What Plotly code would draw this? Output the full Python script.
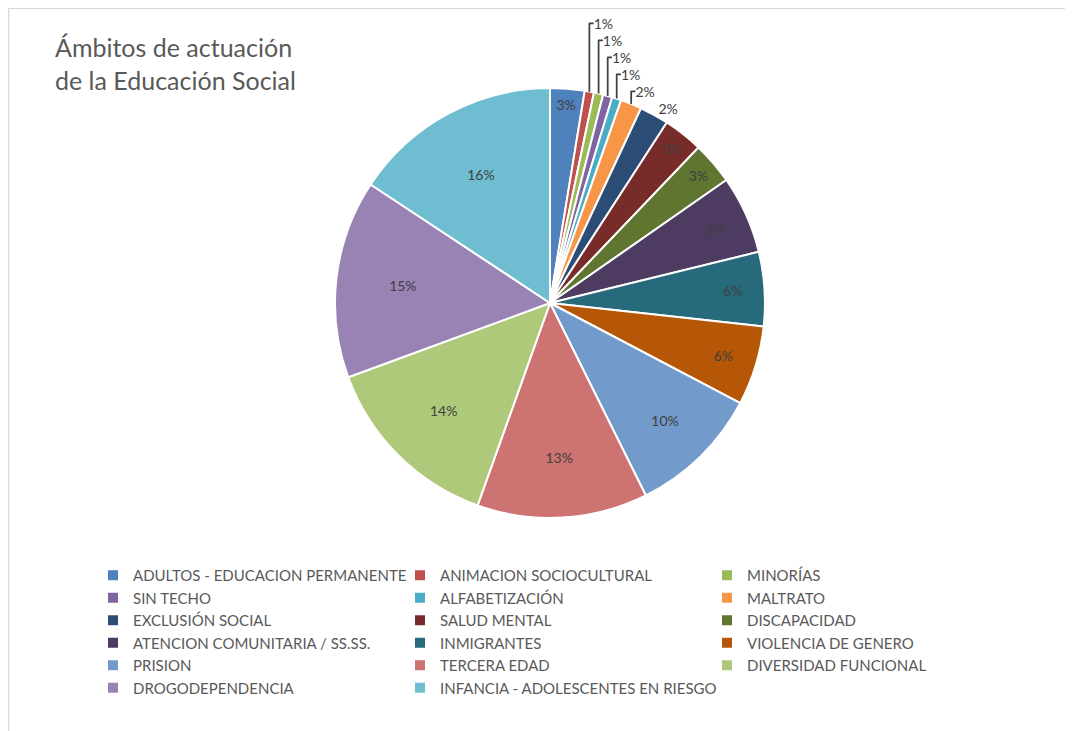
import plotly.graph_objects as go

# Ámbitos de actuación (orden del gráfico, sentido horario desde las 12)
ambitos = [
    "ADULTOS - EDUCACION PERMANENTE", "ANIMACION SOCIOCULTURAL", "MINORÍAS",
    "SIN TECHO", "ALFABETIZACIÓN", "MALTRATO",
    "EXCLUSIÓN SOCIAL", "SALUD MENTAL", "DISCAPACIDAD",
    "ATENCION COMUNITARIA / SS.SS.", "INMIGRANTES", "VIOLENCIA DE GENERO",
    "PRISION", "TERCERA EDAD", "DIVERSIDAD FUNCIONAL",
    "DROGODEPENDENCIA", "INFANCIA - ADOLESCENTES EN RIESGO",
]
porcentajes = [2.6, 0.7, 0.7, 0.7, 0.7, 1.6, 2.2, 3.0, 3.2,
               5.9, 5.6, 6.0, 10.0, 12.9, 14.0, 15.0, 15.8]

# small slices get their label outside, like the original
etiqueta_fuera = [False, True, True, True, True, True, True, False, False,
                  False, False, False, False, False, False, False, False]

colores = [
    "#4F81BD", "#C0504D", "#9BBB59", "#8064A2", "#4BACC6", "#F79646",
    "#2C4D75", "#772C2A", "#5F7530", "#4D3B62", "#276A7C", "#B65708",
    "#729ACA", "#CD7371", "#AFC97A", "#9983B5", "#6FBDD1",
]

W, H = 1073, 731
FONT = "Lato"
GRIS = "#404040"

fig = go.Figure(go.Pie(
    labels=ambitos,
    values=porcentajes,
    sort=False,
    direction="clockwise",
    rotation=0,
    marker=dict(colors=colores, line=dict(color="white", width=2)),
    texttemplate="%{percent:.0%}",
    textposition=["outside" if f else "inside" for f in etiqueta_fuera],
    insidetextorientation="horizontal",
    textfont=dict(family=FONT, size=14, color=GRIS),
    outsidetextfont=dict(family=FONT, size=14, color=GRIS),
    domain=dict(x=[327 / W, 757 / W], y=[1 - 510 / H, 1 - 80 / H]),
    hoverinfo="label+percent",
))

fig.update_layout(
    width=W,
    height=H,
    margin=dict(l=0, r=0, t=0, b=0),
    paper_bgcolor="white",
    plot_bgcolor="white",
    font=dict(family=FONT, color=GRIS),
    uniformtext=dict(minsize=14, mode="show"),
    title=dict(
        text="Ámbitos de actuación<br>de la Educación Social",
        x=47 / W, xanchor="left",
        y=1 - 49 / H, yanchor="top",
        font=dict(family=FONT, size=25, color="#595959"),
    ),
    legend=dict(
        orientation="h",
        x=85 / W, xanchor="left",
        y=1 - 551 / H, yanchor="top",
        entrywidth=262, entrywidthmode="pixels",
        font=dict(family=FONT, size=15, color="#595959"),
        traceorder="normal",
    ),
    shapes=[dict(
        type="rect", xref="paper", yref="paper",
        x0=0.0005, x1=1.01, y0=-0.01, y1=0.9995,
        line=dict(color="#d9d9d9", width=1.5),
    )],
)

fig.write_html("out.html")
